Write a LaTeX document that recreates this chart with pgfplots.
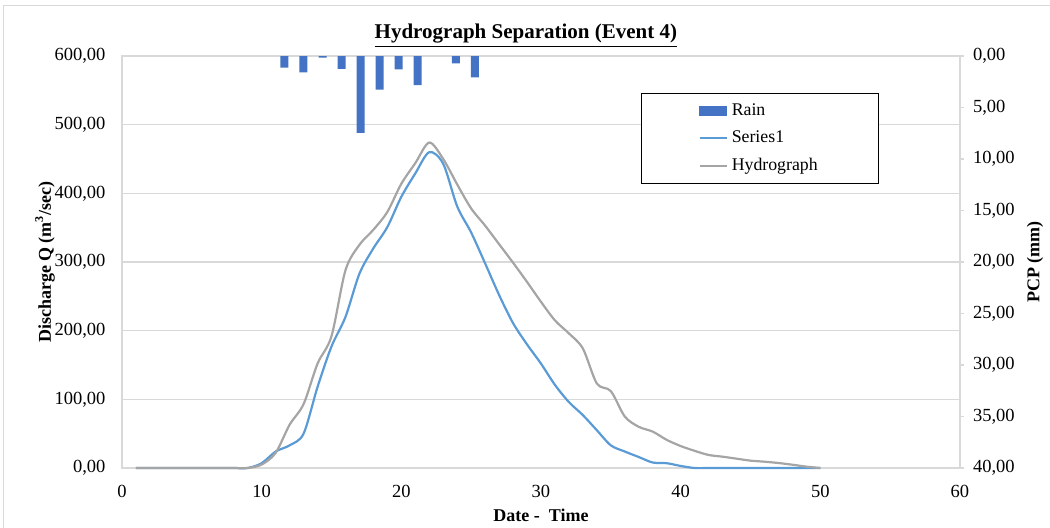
\documentclass[border=0pt]{standalone}
\usepackage{fontspec}
\setmainfont{Liberation Serif}
\usepackage{pgfplots}
\usepackage{pgfplotstable}
\pgfplotsset{compat=1.18}

\definecolor{rainblue}{HTML}{4472C4}
\definecolor{qblue}{HTML}{5B9BD5}
\definecolor{hgray}{HTML}{A5A5A5}
\definecolor{gridgray}{HTML}{D9D9D9}

% Discharge (m3/s): separated series and total hydrograph
\pgfplotstableread{
x q h
1 0 0
2 0 0
3 0 0
4 0 0
5 0 0
6 0 0
7 0 0
8 0 0
9 0 0
10 7 5
11 24 22
12 33 63
13 50 93
14 118 152
15 177 192
16 220 288
17 283 325
18 320 347
19 351 373
20 395 414
21 429 444
22 460 474
23 443 450
24 381 413
25 343 378
26 298 353
27 252 326
28 211 299
29 180 271
30 152 242
31 121 215
32 96 196
33 77 174
34 55 123
35 33 112
36 24 75
37 16 60
38 8 53
39 7 41
40 3 32
41 0 25
42 0 19
43 0 16.5
44 0 13.6
45 0 10.7
46 0 9.2
47 0 7.3
48 0 4.8
49 0 2
50 0 0
}\flowdata

% Precipitation (mm)
\pgfplotstableread{
x p
11.62 1.13
12.98 1.59
14.37 0.15
15.73 1.26
17.09 7.47
18.45 3.27
19.81 1.29
21.17 2.82
23.90 0.71
25.27 2.07
}\raindata

\pgfplotsset{
  commonaxis/.style={
    at={(0,0)}, anchor=south west,
    scale only axis, width=419pt, height=206pt,
    xmin=0, xmax=60,
    /pgf/number format/assume math mode=true,
    tick label style={font=\fontsize{9.25}{11}\selectfont},
    label style={font=\bfseries\fontsize{9}{11}\selectfont},
    yticklabel style={
      /pgf/number format/fixed,
      /pgf/number format/fixed zerofill,
      /pgf/number format/precision=2,
      /pgf/number format/use comma,
    },
  },
}

\begin{document}
\begin{tikzpicture}
\path[use as bounding box] (-61pt,-29.5pt) rectangle (464pt,234pt);
\draw[gray!30, line width=0.5pt] (-59pt,-40pt) |- (480pt,231.5pt);

% Discharge axis (left)
\begin{axis}[
  commonaxis,
  ymin=0, ymax=600,
  xtick={0,10,...,60}, ytick={0,100,...,600},
  axis line style={gridgray, line width=0.75pt},
  major tick length=0pt,
  ymajorgrids, grid style={gridgray, line width=0.75pt},
  xticklabel style={yshift=-5pt},
  yticklabel style={xshift=-4.75pt},
  xlabel={Date -\ \ Time},
  xlabel style={at={(axis description cs:0.5,0)}, anchor=center, yshift=-23.5pt},
  ylabel={Discharge Q (m\textsuperscript{3}/sec)},
  ylabel style={at={(axis description cs:0,0.5)}, anchor=center, rotate=0, yshift=38.5pt},
  clip=false,
  legend cell align=left,
  legend style={
    at={(rel axis cs:0.6193,0.9102)}, anchor=north west,
    draw=black, line width=0.6pt, fill=white,
    font=\fontsize{8.9}{10}\selectfont,
    inner xsep=28.5pt, inner ysep=3pt, row sep=2.3pt,
  },
  legend image code/.code={\draw (0pt,0pt) -- (13.5pt,0pt);},
]
\addlegendimage{legend image code/.code={\fill[rainblue] (0pt,-2.25pt) rectangle (13.5pt,2.25pt);}}
\addlegendentry{Rain}
\addplot[qblue, line width=1.1pt, smooth] table[x=x, y=q] {\flowdata};
\addlegendentry{Series1}
\addplot[hgray, line width=1.1pt, smooth] table[x=x, y=h] {\flowdata};
\addlegendentry{Hydrograph}
\node[font=\bfseries\fontsize{10.5}{12}\selectfont] at (rel axis cs:0.482,1) [yshift=10pt] {\underline{Hydrograph Separation (Event 4)}};
\end{axis}

% Precipitation axis (right, reversed)
\begin{axis}[
  commonaxis,
  ymin=0, ymax=40, y dir=reverse,
  axis x line=none, axis y line*=right,
  ytick={0,5,...,40},
  axis line style={gridgray, line width=0.75pt},
  tick style={gridgray, line width=0.75pt},
  tick align=outside, major tick length=2pt,
  yticklabel style={xshift=1pt},
  ylabel={PCP (mm)},
  ylabel style={at={(axis description cs:1,0.5)}, anchor=center, yshift=-37.5pt},
]
\addplot[ybar, bar width=4pt, fill=rainblue, draw=none] table[x=x, y=p] {\raindata};
\end{axis}
\end{tikzpicture}
\end{document}
